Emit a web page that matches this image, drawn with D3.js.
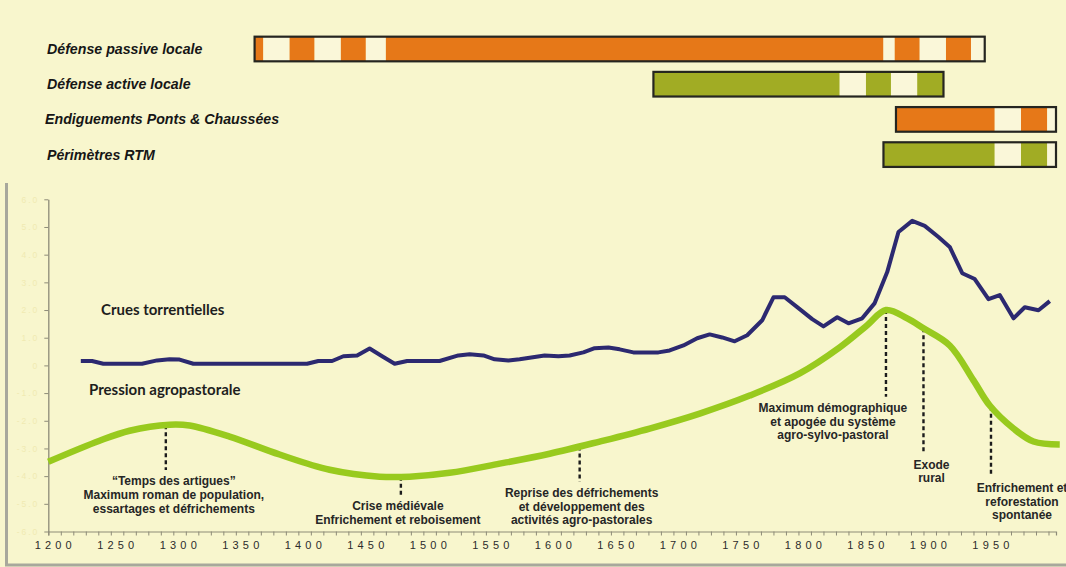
<!DOCTYPE html>
<html lang="fr">
<head>
<meta charset="utf-8">
<script src="https://cdn.jsdelivr.net/npm/d3@7"></script>
<style>
  html, body { margin: 0; padding: 0; background: #f8f6cd; }
  svg { display: block; }
</style>
</head>
<body>
<svg id="chart" width="1066" height="567"></svg>
<script>
// ---- Data -------------------------------------------------------------
// Timeline bars: each row alternates filled / open stretches between the breaks (years)
const rowLabels = ["Défense passive locale", "Défense active locale",
                   "Endiguements Ponts & Chaussées", "Périmètres RTM"];
const rowColors = ["#e67818", "#a1ac24", "#e67818", "#a1ac24"];
const rowBreaks = [
  [1365, 1372, 1393, 1413, 1434, 1454, 1470, 1868, 1877, 1897, 1918, 1938, 1949],
  [1684, 1833, 1854, 1874, 1895, 1916],
  [1878, 1957, 1978, 1999, 2006],
  [1868, 1957, 1978, 1999, 2006]
];

// Torrential floods index
const cruesYears  = [1226,1235,1244,1275,1287,1297,1305,1316,1407,1416,1427,1436,1447,1457,1467,1477,1487,
                     1513,1528,1537,1548,1557,1568,1577,1597,1608,1617,1628,1637,1648,1657,1668,1688,1697,
                     1708,1719,1729,1739,1749,1759,1771,1780,1789,1800,1811,1820,1831,1840,1851,1861,1871,
                     1880,1891,1901,1912,1921,1931,1941,1952,1961,1972,1981,1992,2001];
const cruesValues = [0.16,0.16,0.06,0.06,0.18,0.22,0.21,0.06,0.06,0.16,0.16,0.33,0.36,0.61,0.33,0.06,0.16,
                     0.16,0.36,0.40,0.36,0.22,0.18,0.22,0.36,0.33,0.36,0.47,0.62,0.65,0.58,0.47,0.47,0.54,
                     0.72,0.98,1.12,1.01,0.87,1.09,1.63,2.46,2.46,2.07,1.67,1.41,1.74,1.52,1.70,2.25,3.37,
                     4.82,5.22,5.04,4.64,4.28,3.33,3.12,2.39,2.54,1.70,2.10,1.99,2.32];

// Agro-pastoral pressure
const pressionYears  = [1200,1241,1265,1297,1313,1345,1385,1425,1465,1489,1521,1561,1601,1641,1681,1721,
                        1761,1801,1833,1855,1870,1887,1900,1921,1940,1953,1972,1988,2009];
const pressionValues = [-3.48,-2.72,-2.36,-2.14,-2.17,-2.57,-3.22,-3.77,-4.02,-4.02,-3.88,-3.55,-3.19,-2.75,
                        -2.28,-1.74,-1.09,-0.29,0.65,1.45,2.0,1.70,1.34,0.72,-0.54,-1.45,-2.28,-2.75,-2.86];

// Historical milestones: year, lower end of the pointer (index value), caption lines
const noteYears = [1294, 1482, 1625, 1870, 1900, 1954];
const noteEnds  = [-3.78, -4.68, -4.20, -1.13, -3.18, -4.02];
const noteTexts = [
  ["“Temps des artigues”", "Maximum roman de population,", "essartages et défrichements"],
  ["Crise médiévale", "Enfrichement et reboisement"],
  ["Reprise des défrichements", "et développement des", "activités agro-pastorales"],
  ["Maximum démographique", "et apogée du système", "agro-sylvo-pastoral"],
  ["Exode", "rural"],
  ["Enfrichement et", "reforestation", "spontanée"]
];

const xTicks = d3.range(1200, 2001, 10);
const xLabels = d3.range(1200, 1951, 50);
const yTicks = d3.range(-6, 7, 1);
const seriesNames = ["Crues torrentielles", "Pression agropastorale"];

// ---- Layout -----------------------------------------------------------
const svg = d3.select("#chart");
const x = d3.scaleLinear().domain([1200, 2006]).range([48.3, 1056]);
const y = d3.scaleLinear().domain([-6, 6]).range([531.5, 199.3]);
const rows = d3.scaleBand().domain(rowLabels).range([31.4, 172.2]).paddingInner(0.3).paddingOuter(0.15);
const noteDx = [8, -3, 2, -53, 8, 31];

// frame
svg.append("line").attr("x1", 6.5).attr("x2", 6.5).attr("y1", 183).attr("y2", 566)
  .attr("stroke", "#a8a89c").attr("stroke-width", 3);
svg.append("line").attr("x1", 5).attr("x2", 1066).attr("y1", 565).attr("y2", 565)
  .attr("stroke", "#a8a89c").attr("stroke-width", 3);

// ---- Timeline bars ----------------------------------------------------
rowLabels.forEach((name, i) => {
  const b = rowBreaks[i];
  const segs = d3.pairs(b).map((p, k) => ({ a: p[0], b: p[1], on: k % 2 === 0 }));
  const g = svg.append("g");
  g.selectAll("rect.seg").data(segs).join("rect")
    .attr("class", "seg")
    .attr("x", d => x(d.a)).attr("width", d => x(d.b) - x(d.a))
    .attr("y", rows(name)).attr("height", rows.bandwidth())
    .attr("fill", d => d.on ? rowColors[i] : "#faf7d9");
  g.append("rect")
    .attr("x", x(b[0])).attr("width", x(b[b.length - 1]) - x(b[0]))
    .attr("y", rows(name)).attr("height", rows.bandwidth())
    .attr("fill", "none").attr("stroke", "#252520").attr("stroke-width", 2.2);
  svg.append("text")
    .attr("x", i === 2 ? 45 : 47).attr("y", rows(name) + rows.bandwidth() / 2)
    .attr("dy", "0.35em")
    .attr("font-family", "Liberation Sans, Arial, sans-serif")
    .attr("font-size", 14.2).attr("font-weight", "bold").attr("font-style", "italic")
    .attr("fill", "#161616")
    .text(name);
});

// ---- Axes -------------------------------------------------------------
const yAxis = svg.append("g").attr("transform", `translate(${x(1200)},0)`)
  .call(d3.axisLeft(y).tickValues(yTicks).tickSize(4).tickSizeOuter(0)
    .tickFormat(d => d === 0 ? "0" : d.toFixed(1)));
yAxis.select(".domain").attr("stroke", "#8d8b78").attr("stroke-width", 1.3);
yAxis.selectAll(".tick line").attr("stroke", "#8d8b78");
yAxis.selectAll(".tick text")
  .attr("font-family", "Liberation Sans, Arial, sans-serif")
  .attr("font-size", 8.5).attr("letter-spacing", 2).attr("fill", "#f0eab2").attr("x", -9);

const xAxis = svg.append("g").attr("transform", `translate(0,${y(-6)})`)
  .call(d3.axisBottom(x).tickValues(xTicks).tickSize(4).tickSizeOuter(4)
    .tickFormat(d => xLabels.includes(d) ? String(d) : ""));
xAxis.select(".domain").attr("stroke", "#8d8b78").attr("stroke-width", 1.2);
xAxis.selectAll(".tick line").attr("stroke", "#8d8b78");
xAxis.selectAll(".tick text")
  .attr("font-family", "Liberation Sans, Arial, sans-serif")
  .attr("font-size", 11).attr("letter-spacing", 4.2).attr("fill", "#2c2c2c")
  .attr("dx", 6.5).attr("y", 10);

// ---- Milestone pointers ----------------------------------------------
const pressionAt = yr => {
  const i = d3.bisectRight(pressionYears, yr) - 1;
  const j = Math.min(i + 1, pressionYears.length - 1);
  const t = (yr - pressionYears[i]) / ((pressionYears[j] - pressionYears[i]) || 1);
  return pressionValues[i] + t * (pressionValues[j] - pressionValues[i]);
};
const notes = noteYears.map((yr, i) => ({ yr, end: noteEnds[i], lines: noteTexts[i], dx: noteDx[i] }));
svg.append("g").selectAll("line").data(notes).join("line")
  .attr("x1", d => x(d.yr)).attr("x2", d => x(d.yr))
  .attr("y1", d => y(pressionAt(d.yr))).attr("y2", d => y(d.end))
  .attr("stroke", "#1c1c1c").attr("stroke-width", 2.4).attr("stroke-dasharray", "4,3");

const noteG = svg.append("g")
  .attr("font-family", "Liberation Sans, Arial, sans-serif")
  .attr("font-size", 12).attr("font-weight", "bold").attr("fill", "#262626")
  .attr("text-anchor", "middle");
notes.forEach(d => {
  d.lines.forEach((ln, k) => {
    noteG.append("text")
      .attr("x", x(d.yr) + d.dx).attr("y", y(d.end) + 11 + k * 13.8)
      .attr("dy", "0.35em").text(ln);
  });
});

// ---- Series -----------------------------------------------------------
const pressionLine = d3.line().curve(d3.curveCatmullRom.alpha(0.5))
  .x((d, i) => x(pressionYears[i])).y(d => y(d));
svg.append("path").datum(pressionValues)
  .attr("d", pressionLine).attr("fill", "none")
  .attr("stroke", "#98ca1e").attr("stroke-width", 6.5).attr("stroke-linejoin", "round");

const cruesLine = d3.line().x((d, i) => x(cruesYears[i])).y(d => y(d));
svg.append("path").datum(cruesValues)
  .attr("d", cruesLine).attr("fill", "none")
  .attr("stroke", "#2c2970").attr("stroke-width", 4).attr("stroke-linejoin", "round");

// series captions
svg.append("g").attr("font-family", "Lato, 'Open Sans', sans-serif")
  .attr("font-size", 15).attr("font-weight", "bold").attr("fill", "#1e1e1e")
  .selectAll("text").data(seriesNames).join("text")
  .attr("x", (d, i) => i === 0 ? 101 : 89)
  .attr("y", (d, i) => i === 0 ? y(2.0) : y(-0.87))
  .attr("dy", "0.35em").text(d => d);
</script>
</body>
</html>
